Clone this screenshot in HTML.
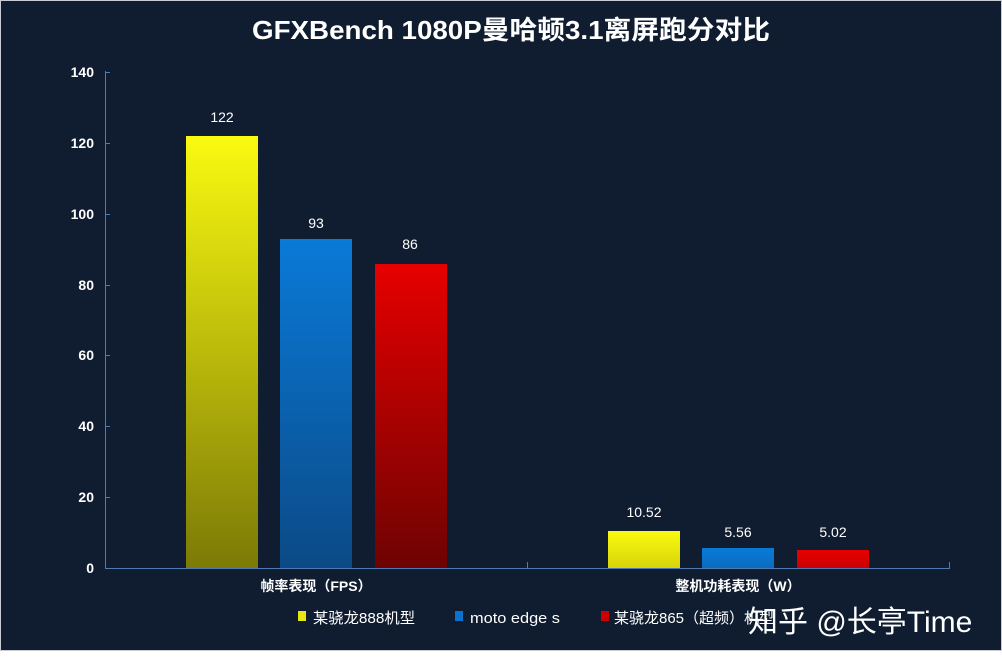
<!DOCTYPE html>
<html><head><meta charset="utf-8"><style>
html,body{margin:0;padding:0;background:#fff;}
svg{display:block;font-family:"Liberation Sans","Noto Sans CJK SC",sans-serif;}
</style></head><body>
<svg width="1002" height="662" viewBox="0 0 1002 662" xmlns="http://www.w3.org/2000/svg">
<defs>
<linearGradient id="gy" x1="0" y1="0" x2="0" y2="1"><stop offset="0" stop-color="#fafa10"/><stop offset="1" stop-color="#7c7a06"/></linearGradient>
<linearGradient id="gb" x1="0" y1="0" x2="0" y2="1"><stop offset="0" stop-color="#0a7ad8"/><stop offset="1" stop-color="#0b4a86"/></linearGradient>
<linearGradient id="gr" x1="0" y1="0" x2="0" y2="1"><stop offset="0" stop-color="#e60000"/><stop offset="1" stop-color="#6e0202"/></linearGradient>
<linearGradient id="gy2" x1="0" y1="0" x2="0" y2="1"><stop offset="0" stop-color="#fafa10"/><stop offset="1" stop-color="#d8d40a"/></linearGradient>
<linearGradient id="gb2" x1="0" y1="0" x2="0" y2="1"><stop offset="0" stop-color="#0a7ad8"/><stop offset="1" stop-color="#0a6cc0"/></linearGradient>
<linearGradient id="gr2" x1="0" y1="0" x2="0" y2="1"><stop offset="0" stop-color="#e60000"/><stop offset="1" stop-color="#cc0000"/></linearGradient>
</defs>
<rect x="0" y="0" width="1002" height="651" fill="#101c30"/>
<rect x="0.5" y="0.5" width="1001" height="650" fill="none" stroke="#c8ccd2" stroke-width="1"/>
<text x="511" y="39" text-anchor="middle" font-size="26" font-weight="bold" fill="#fff" textLength="518" lengthAdjust="spacingAndGlyphs">GFXBench  1080P曼哈顿3.1离屏跑分对比</text>
<g stroke="#4f7bb0" stroke-width="1" fill="none">
<line x1="105.5" y1="71" x2="105.5" y2="568"/>
<line x1="105" y1="568.5" x2="950" y2="568.5"/>
<line x1="105" y1="72.5" x2="110" y2="72.5"/>
<line x1="105" y1="143.5" x2="110" y2="143.5"/>
<line x1="105" y1="214.5" x2="110" y2="214.5"/>
<line x1="105" y1="285.5" x2="110" y2="285.5"/>
<line x1="105" y1="355.5" x2="110" y2="355.5"/>
<line x1="105" y1="426.5" x2="110" y2="426.5"/>
<line x1="105" y1="497.5" x2="110" y2="497.5"/>
<line x1="527.5" y1="562" x2="527.5" y2="568"/>
<line x1="949.5" y1="562" x2="949.5" y2="568"/>
</g>
<g font-size="14" font-weight="bold" fill="#fff" text-anchor="end">
<text x="94" y="77">140</text><text x="94" y="148">120</text><text x="94" y="219">100</text>
<text x="94" y="290">80</text><text x="94" y="360">60</text><text x="94" y="431">40</text>
<text x="94" y="502">20</text><text x="94" y="573">0</text>
</g>
<rect x="186" y="136" width="72" height="432" fill="url(#gy)"/>
<rect x="280" y="239" width="72" height="329" fill="url(#gb)"/>
<rect x="375" y="264" width="72" height="304" fill="url(#gr)"/>
<rect x="608" y="531" width="72" height="37" fill="url(#gy2)"/>
<rect x="702" y="548" width="72" height="20" fill="url(#gb2)"/>
<rect x="797" y="550" width="72" height="18" fill="url(#gr2)"/>
<g font-size="14" fill="#fff" text-anchor="middle">
<text x="222" y="122">122</text><text x="316" y="228">93</text><text x="410" y="249">86</text>
<text x="644" y="517">10.52</text><text x="738" y="537">5.56</text><text x="833" y="537">5.02</text>
</g>
<g font-size="14" font-weight="bold" fill="#fff" text-anchor="middle">
<text x="316" y="591">帧率表现（FPS）</text>
<text x="738" y="591">整机功耗表现（W）</text>
</g>
<g font-size="15" fill="#fff">
<rect x="298" y="611" width="8" height="10" fill="#e8e810"/><text x="313" y="623" textLength="102" lengthAdjust="spacingAndGlyphs">某骁龙888机型</text>
<rect x="455" y="611" width="8" height="10" fill="#0a72cc"/><text x="470" y="623" textLength="90" lengthAdjust="spacingAndGlyphs">moto edge s</text>
<rect x="601" y="611" width="8" height="10" fill="#d00000"/><text x="614" y="623">某骁龙865（超频）机型</text>
</g>
<text x="748" y="632" font-size="30" fill="#fff">知乎 @长亭Time</text>
</svg>
</body></html>
